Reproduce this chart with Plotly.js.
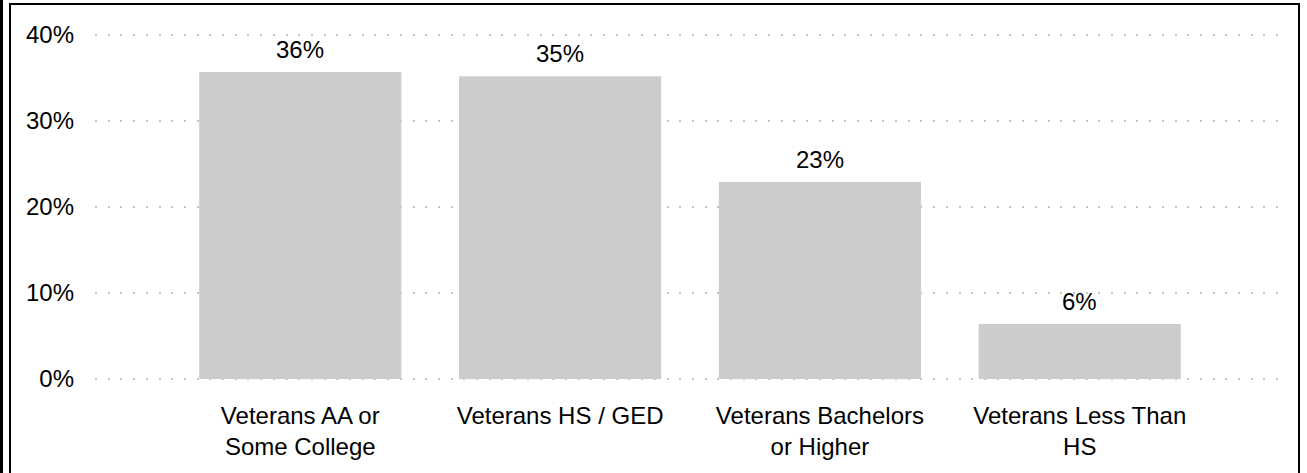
<!DOCTYPE html>
<html>
<head>
<meta charset="utf-8">
<script src="https://cdn.plot.ly/plotly-3.0.1.min.js"></script>
<style>
  html, body { margin: 0; padding: 0; background: #fff; overflow: hidden; }
  #chart { position: absolute; left: 0; top: 0; width: 1307px; height: 473px; }
  #band { position: absolute; left: 0; top: 0; width: 3px; height: 473px; background: #000; z-index: 5; pointer-events: none; }
  #frame { position: absolute; left: 9px; top: 3px; width: 1287px; height: 600px; border: 2px solid #000; z-index: 5; pointer-events: none; }
</style>
</head>
<body>
<div id="chart"></div>
<div id="band"></div>
<div id="frame"></div>
<script>
const categories = [
  "Veterans AA or<br>Some College",
  "Veterans HS / GED",
  "Veterans Bachelors<br>or Higher",
  "Veterans Less Than<br>HS"
];
const values = [35.7, 35.2, 22.9, 6.4];
const valueLabels = ["36%", "35%", "23%", "6%"];
const yTickVals = [0, 10, 20, 30, 40];
const yTickText = ["0%", "10%", "20%", "30%", "40%"];

const FONT = "Liberation Sans, Arial, sans-serif";

const trace = {
  type: "bar",
  x: categories,
  y: values,
  marker: { color: "#cccccc" },
  hoverinfo: "none"
};

const annotations = categories.map((c, i) => ({
  x: c,
  y: values[i],
  xref: "x",
  yref: "y",
  text: valueLabels[i],
  showarrow: false,
  yanchor: "bottom",
  yshift: 7,
  font: { family: FONT, size: 24, color: "#000" }
}));

const layout = {
  width: 1307,
  height: 473,
  margin: { l: 95, r: 22, t: 34, b: 93 },
  paper_bgcolor: "#ffffff",
  plot_bgcolor: "#ffffff",
  showlegend: false,
  bargap: 0.222,
  font: { family: FONT, size: 24, color: "#000" },
  xaxis: {
    type: "category",
    range: [-0.79, 3.79],
    showgrid: false,
    zeroline: false,
    showline: false,
    ticks: "",
    ticklabelstandoff: 19,
    tickfont: { family: FONT, size: 24, color: "#000" }
  },
  yaxis: {
    range: [-0.12, 40.12],
    tickvals: yTickVals,
    ticktext: yTickText,
    showgrid: true,
    gridcolor: "#c4c4c4",
    gridwidth: 2,
    griddash: "2px,10.7px",
    zeroline: false,
    showline: false,
    ticks: "",
    ticklabelstandoff: 20,
    tickfont: { family: FONT, size: 24, color: "#000" }
  },
  annotations: annotations
};

Plotly.newPlot("chart", [trace], layout, { staticPlot: true, displayModeBar: false });
</script>
</body>
</html>
